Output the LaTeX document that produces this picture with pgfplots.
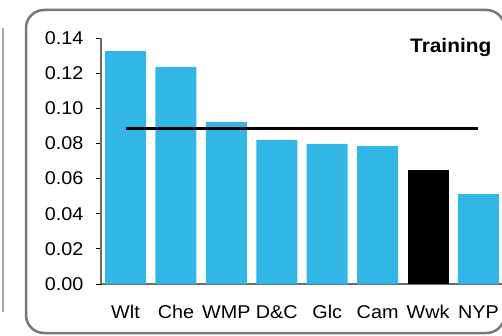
\documentclass[border=0pt]{standalone}
\usepackage{pgfplots}
\pgfplotsset{compat=1.18}
\usepackage{fontspec}
\setmainfont{Liberation Sans}[FakeStretch=1.07]
\definecolor{barblue}{RGB}{50,182,230}
\definecolor{framegray}{RGB}{120,120,120}
\begin{document}
\begin{tikzpicture}[x=1pt,y=1pt]
\begin{axis}[
  at={(101pt,51pt)}, anchor=south west,
  scale only axis, width=402.7pt, height=246pt,
  xmin=-0.486, xmax=7.5, ymin=0, ymax=0.14,
  axis x line=bottom, axis y line=left,
  axis line style={-, draw=gray!85!black, line width=1.2pt},
  xtick={0,1,2,3,4,5,6,7},
  xticklabels={Wlt,Che,WMP,D\&C,Glc,Cam,Wwk,NYP},
  ytick={0,0.02,0.04,0.06,0.08,0.10,0.12,0.14},
  tick align=outside, major tick length=5pt,
  x tick style={draw=none},
  y tick style={black, line width=0.8pt},
  tick label style={font=\fontsize{18.5}{18.5}\selectfont},
  /pgf/number format/fixed,
  /pgf/number format/fixed zerofill,
  /pgf/number format/precision=2,
  /pgf/number format/assume math mode=true,
  yticklabel style={anchor=east, inner sep=0pt, xshift=-12.5pt},
  xticklabel style={anchor=base, inner sep=0pt, yshift=-29.5pt},
  clip=false,
]
\addplot[ybar, bar width=0.813, bar shift=0pt, fill=barblue, draw=none]
  coordinates {(0,0.1326) (1,0.1235) (2,0.0922) (3,0.0820) (4,0.0797) (5,0.0785) (7,0.0512)};
\addplot[ybar, bar width=0.813, bar shift=0pt, fill=black, draw=none]
  coordinates {(6,0.0649)};
\addplot[black, line width=3pt, mark=none]
  coordinates {(0,0.0883) (1,0.0883) (2,0.0883) (3,0.0883) (4,0.0883) (5,0.0883) (6,0.0883) (7,0.0883)};
\end{axis}
\node[anchor=base east, font=\bfseries\fontsize{19.5}{19.5}\selectfont, inner sep=0pt] at (491.5,282) {Training};
\draw[framegray, line width=2.5pt, rounded corners=18pt] (26,2) rectangle (504.5,325);
\draw[gray!70, line width=2pt] (2.5,307) -- (2.5,23);
\pgfresetboundingbox
\path[use as bounding box] (0,0) rectangle (502,335);
\end{tikzpicture}
\end{document}
